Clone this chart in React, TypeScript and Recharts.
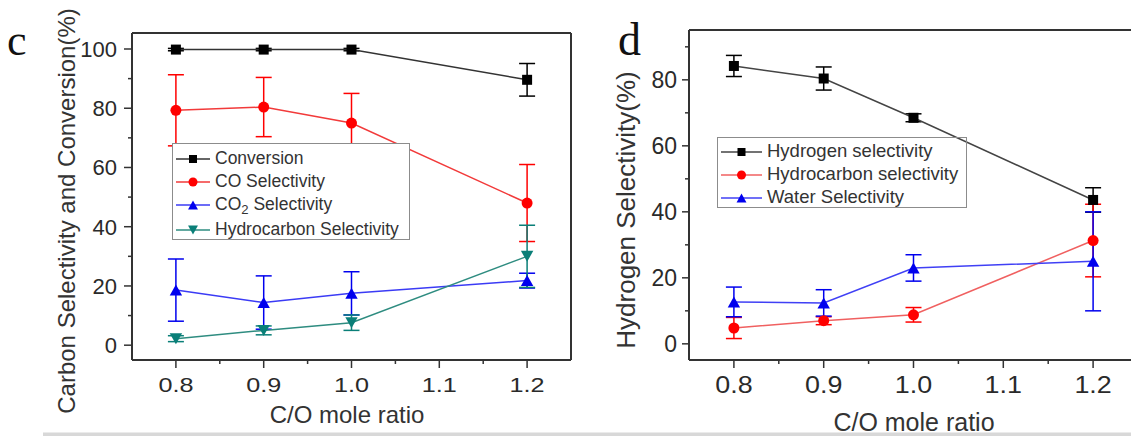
import React from "react";
import { LineChart, Line, XAxis, YAxis, ErrorBar, Legend } from "recharts";

const FONT = "'Liberation Sans', Arial, Helvetica, sans-serif";
const SERIF = "'Liberation Serif', 'Times New Roman', serif";
const AXIS = "#333";

// shared x axis
const ratios = [0.8, 0.9, 1.0, 1.2];
const xTicks = [0.8, 0.85, 0.9, 0.95, 1.0, 1.05, 1.1, 1.15, 1.2];
const xLabels = ["0.8", "0.9", "1.0", "1.1", "1.2"];

// panel c – carbon selectivity and conversion (%)
const conversion = [99.8, 99.8, 99.8, 89.6];
const conversionErr = [0.4, 0.4, 0.4, 5.5];
const coSel = [79.3, 80.4, 75.0, 48.0];
const coSelErr = [12, 10, 10, 13];
const co2Sel = [18.6, 14.4, 17.5, 21.8];
const co2SelErr = [10.5, 9, 7.3, 2.5];
const hcSel = [2.2, 5.0, 7.6, 30.0];
const hcSelErr = [1, 1.5, 2.6, 10.5];
const cNames = ["Conversion", "CO Selectivity", "CO2 Selectivity", "Hydrocarbon Selectivity"];
const cTicks = [0, 10, 20, 30, 40, 50, 60, 70, 80, 90, 100];
const cLabels = ["0", "20", "40", "60", "80", "100"];

// panel d – hydrogen selectivity (%)
const h2Sel = [84.2, 80.4, 68.5, 43.6];
const h2SelErr = [3.2, 3.5, 1.2, 3.7];
const hcH = [4.8, 7.0, 8.8, 31.3];
const hcHErr = [3.2, 1.2, 2.2, 11];
const waterSel = [12.7, 12.4, 23.0, 25.0];
const waterSelErr = [4.5, 4, 4, 15];
const dNames = ["Hydrogen selectivity", "Hydrocarbon selectivity", "Water Selectivity"];
const dTicks = [0, 10, 20, 30, 40, 50, 60, 70, 80, 90];
const dLabels = ["0", "20", "40", "60", "80"];

const cData = ratios.map((r, i) => ({
  ratio: r,
  conversion: conversion[i],
  conversionErr: conversionErr[i],
  co: coSel[i],
  coErr: coSelErr[i],
  co2: co2Sel[i],
  co2Err: co2SelErr[i],
  hc: hcSel[i],
  hcErr: hcSelErr[i],
}));

const dData = ratios.map((r, i) => ({
  ratio: r,
  h2: h2Sel[i],
  h2Err: h2SelErr[i],
  hc: hcH[i],
  hcErr: hcHErr[i],
  water: waterSel[i],
  waterErr: waterSelErr[i],
}));

type Shape = "square" | "circle" | "up" | "down";
type Series = { key: string; name: string; color: string; line: string; shape: Shape };

const cSeries: Series[] = [
  { key: "conversion", name: cNames[0], color: "#000", line: "#333", shape: "square" },
  { key: "co", name: cNames[1], color: "#ff0000", line: "#f23a3a", shape: "circle" },
  { key: "co2", name: cNames[2], color: "#0000ee", line: "#3b3bf5", shape: "up" },
  { key: "hc", name: cNames[3], color: "#0a7f78", line: "#2e8c80", shape: "down" },
];

const dSeries: Series[] = [
  { key: "h2", name: dNames[0], color: "#000", line: "#444", shape: "square" },
  { key: "hc", name: dNames[1], color: "#ff0000", line: "#f06060", shape: "circle" },
  { key: "water", name: dNames[2], color: "#0000ee", line: "#4040f5", shape: "up" },
];

function Marker({ cx, cy, shape, color, size }: { cx?: number; cy?: number; shape: Shape; color: string; size: number }) {
  if (cx == null || cy == null) return null;
  const s = size;
  if (shape === "square") return <rect x={cx - s / 2} y={cy - s / 2} width={s} height={s} fill={color} />;
  if (shape === "circle") return <circle cx={cx} cy={cy} r={s / 2 + 0.5} fill={color} />;
  const h = s * 0.55;
  const w = s * 0.62;
  if (shape === "up")
    return <polygon points={`${cx},${cy - h} ${cx - w},${cy + h} ${cx + w},${cy + h}`} fill={color} />;
  return <polygon points={`${cx},${cy + h} ${cx - w},${cy - h} ${cx + w},${cy - h}`} fill={color} />;
}

// ticks are drawn here so that minor ticks can be shorter and unlabelled
function makeYTick(labels: string[], fontSize: number, major: number, minor: number, gap: number) {
  return (p: any) => {
    const v = p.payload.value;
    const label = String(v);
    const isMajor = labels.includes(label);
    const len = isMajor ? major : minor;
    return (
      <g>
        <line x1={p.x} x2={p.x - len} y1={p.y} y2={p.y} stroke={AXIS} strokeWidth={1.5} />
        {isMajor && (
          <text x={p.x - len - gap} y={p.y + fontSize * 0.36} textAnchor="end" fontSize={fontSize} fontFamily={FONT} fill="#2a2a2a">
            {label}
          </text>
        )}
      </g>
    );
  };
}

function makeXTick(fontSize: number, stretch: number, baseline: number) {
  return (p: any) => {
    const v = p.payload.value;
    const label = v.toFixed(1);
    const isMajor = Math.abs(v * 10 - Math.round(v * 10)) < 1e-6 && xLabels.includes(label);
    const len = isMajor ? 8 : 4;
    return (
      <g>
        <line x1={p.x} x2={p.x} y1={p.y} y2={p.y + len} stroke={AXIS} strokeWidth={1.5} />
        {isMajor && (
          <text
            transform={`translate(${p.x},${p.y + baseline}) scale(${stretch},1)`}
            textAnchor="middle"
            fontSize={fontSize}
            fontFamily={FONT}
            fill="#2a2a2a"
          >
            {label}
          </text>
        )}
      </g>
    );
  };
}

function SeriesLabel({ name }: { name: string }) {
  if (name.startsWith("CO2")) {
    return (
      <>
        CO<sub style={{ fontSize: "0.75em", verticalAlign: "-0.3em", lineHeight: 0 }}>2</sub>
        {name.slice(3)}
      </>
    );
  }
  return <>{name}</>;
}

function LegendBox(props: {
  series: Series[];
  width: number;
  height: number;
  rows: number[];
  padTop: number;
  sampleW: number;
  fontSize: number;
  bg: string;
}) {
  const { series, width, height, rows, padTop, sampleW, fontSize, bg } = props;
  return (
    <div
      style={{
        width,
        height,
        boxSizing: "border-box",
        border: "1px solid #8c8c8c",
        background: bg,
        paddingTop: padTop,
        fontFamily: FONT,
      }}
    >
      {series.map((s, i) => (
        <div key={s.key} style={{ display: "flex", alignItems: "center", height: rows[i] }}>
          <svg width={sampleW} height={20} style={{ flex: "none", marginLeft: 1 }}>
            <line x1={2} x2={sampleW - 2} y1={10} y2={10} stroke={s.line} strokeWidth={1.5} />
            <Marker cx={sampleW / 2} cy={10} shape={s.shape} color={s.color} size={8} />
          </svg>
          <span style={{ marginLeft: 3, fontSize, lineHeight: 1, color: "#333", whiteSpace: "nowrap" }}>
            <SeriesLabel name={s.name} />
          </span>
        </div>
      ))}
    </div>
  );
}

// mirror axes close the frame on top and right, as in Origin plots
function frameAxes() {
  return [
    <XAxis
      key="top"
      xAxisId="top"
      orientation="top"
      type="number"
      domain={[0, 1]}
      height={1}
      tick={false}
      tickLine={false}
      axisLine={{ stroke: AXIS, strokeWidth: 2 }}
    />,
    <YAxis
      key="right"
      yAxisId="right"
      orientation="right"
      type="number"
      domain={[0, 1]}
      width={1}
      tick={false}
      tickLine={false}
      axisLine={{ stroke: AXIS, strokeWidth: 2 }}
    />,
  ];
}

function renderSeries(series: Series[], markerSize: number) {
  return series.map((s) => (
    <Line
      key={s.key}
      type="linear"
      dataKey={s.key}
      name={s.name}
      stroke={s.line}
      strokeWidth={1.5}
      dot={(p: any) => (
        <Marker key={`${s.key}-${p.index}`} cx={p.cx} cy={p.cy} shape={s.shape} color={s.color} size={markerSize} />
      )}
      activeDot={false}
      isAnimationActive={false}
    >
      <ErrorBar dataKey={`${s.key}Err`} width={8} strokeWidth={1.5} stroke={s.color} direction="y" />
    </Line>
  ));
}

function PanelC() {
  return (
    <LineChart width={600} height={436} data={cData} margin={{ top: 32, right: 28, bottom: 75, left: 0 }}>
      <XAxis
        type="number"
        dataKey="ratio"
        domain={[0.75, 1.25]}
        allowDataOverflow
        ticks={xTicks}
        interval={0}
        height={1}
        tickSize={0}
        tickMargin={0}
        tickLine={false}
        axisLine={{ stroke: AXIS, strokeWidth: 2 }}
        tick={makeXTick(21, 1.2, 32)}
      />
      <YAxis
        type="number"
        domain={[-5, 105.4]}
        allowDataOverflow
        ticks={cTicks}
        interval={0}
        width={132}
        tickSize={0}
        tickMargin={0}
        tickLine={false}
        axisLine={{ stroke: AXIS, strokeWidth: 2 }}
        tick={makeYTick(cLabels, 22, 8, 4, 7)}
      />
      {frameAxes()}
      {renderSeries(cSeries, 10)}
      <Legend
        layout="vertical"
        align="center"
        verticalAlign="middle"
        wrapperStyle={{ left: 172, top: 143, width: 238 }}
        content={() => (
          <LegendBox
            series={cSeries}
            width={238}
            height={97}
            rows={[23, 23, 23, 28]}
            padTop={3}
            sampleW={38}
            fontSize={17.5}
            bg="#fff"
          />
        )}
      />
    </LineChart>
  );
}

function PanelD() {
  return (
    <LineChart width={600} height={436} data={dData} margin={{ top: 29, right: 21, bottom: 75, left: 0 }}>
      <XAxis
        type="number"
        dataKey="ratio"
        domain={[0.75, 1.25]}
        allowDataOverflow
        ticks={xTicks}
        interval={0}
        height={1}
        tickSize={0}
        tickMargin={0}
        tickLine={false}
        axisLine={{ stroke: AXIS, strokeWidth: 2 }}
        tick={makeXTick(24, 1.12, 33)}
      />
      <YAxis
        type="number"
        domain={[-4.9, 95.1]}
        allowDataOverflow
        ticks={dTicks}
        interval={0}
        width={129}
        tickSize={0}
        tickMargin={0}
        tickLine={false}
        axisLine={{ stroke: AXIS, strokeWidth: 2 }}
        tick={makeYTick(dLabels, 23, 7, 4, 5)}
      />
      {frameAxes()}
      {renderSeries(dSeries, 10)}
      <Legend
        layout="vertical"
        align="center"
        verticalAlign="middle"
        wrapperStyle={{ left: 157, top: 137, width: 250 }}
        content={() => (
          <LegendBox
            series={dSeries}
            width={250}
            height={71}
            rows={[23, 23, 23]}
            padTop={2}
            sampleW={45}
            fontSize={18.5}
            bg="transparent"
          />
        )}
      />
    </LineChart>
  );
}

export default function App() {
  return (
    <div
      style={{
        position: "fixed",
        left: 0,
        top: 0,
        width: 1131,
        height: 436,
        overflow: "hidden",
        background: "#fff",
      }}
    >
      <div style={{ position: "absolute", left: 0, top: 0 }}>
        <PanelC />
      </div>
      <div style={{ position: "absolute", left: 560, top: 0 }}>
        <PanelD />
      </div>
      <svg width={1131} height={436} style={{ position: "absolute", left: 0, top: 0, pointerEvents: "none" }}>
        <rect x={43} y={432.5} width={1088} height={3.5} fill="#d8d8d8" />
        <text x={7} y={55} fontFamily={SERIF} fontSize={44} fill="#111">
          c
        </text>
        <text x={618} y={55} fontFamily={SERIF} fontSize={46} fill="#111">
          d
        </text>
        <text transform="translate(75,211) rotate(-90)" textAnchor="middle" fontFamily={FONT} fontSize={24} fill="#333">
          Carbon Selectivity and Conversion(%)
        </text>
        <text transform="translate(635,210) rotate(-90)" textAnchor="middle" fontFamily={FONT} fontSize={26} fill="#333">
          Hydrogen Selectivity(%)
        </text>
        <text x={347} y={423} textAnchor="middle" fontFamily={FONT} fontSize={24} fill="#333">
          C/O mole ratio
        </text>
        <text x={914} y={431} textAnchor="middle" fontFamily={FONT} fontSize={25} fill="#333">
          C/O mole ratio
        </text>
      </svg>
    </div>
  );
}
